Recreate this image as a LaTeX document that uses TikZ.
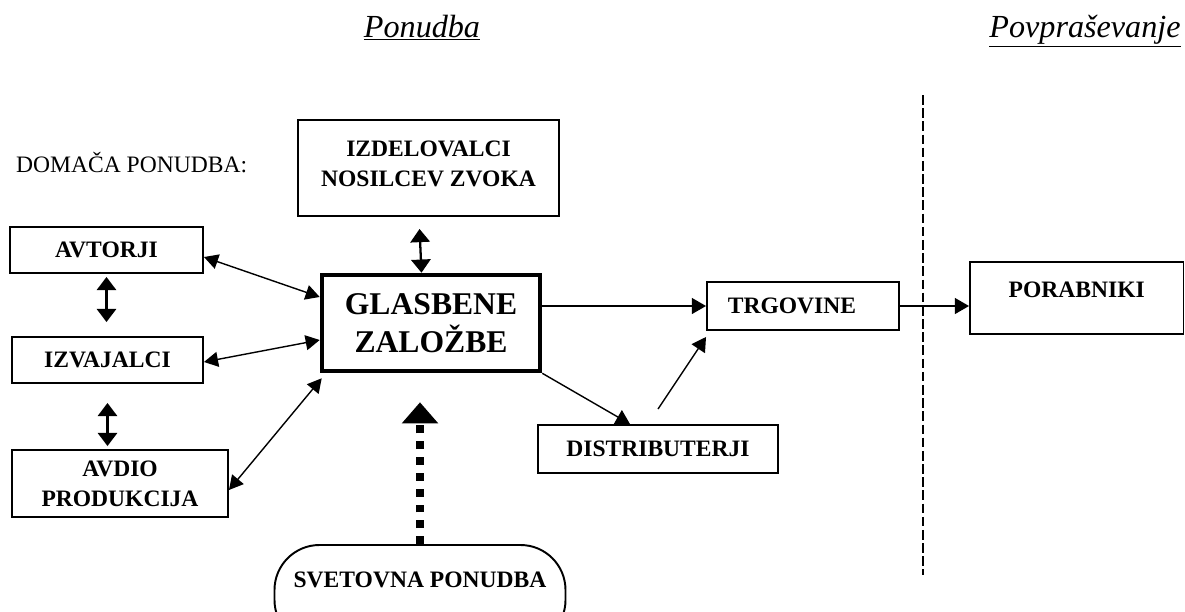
\documentclass[tikz,border=0pt]{standalone}
\usepackage{fontspec}
\setmainfont{Liberation Serif}
\usetikzlibrary{arrows.meta}

% looks that repeat
\tikzset{
  box/.style={draw, line width=1.1pt, inner sep=0pt, align=center,
    font=\fontsize{13.4}{17}\selectfont\bfseries},
  mainbox/.style={draw, line width=2.6pt, inner sep=0pt, align=center,
    font=\fontsize{18}{21.5}\selectfont\bfseries},
  flow/.style={line width=0.8pt, -{Triangle[length=8pt,width=9pt]}},
  twoway/.style={line width=0.8pt,
    {Triangle[length=8pt,width=8.5pt]}-{Triangle[length=8pt,width=8.5pt]}},
  updown/.style={line width=1.3pt,
    {Triangle[length=7.5pt,width=11pt]}-{Triangle[length=7.5pt,width=11pt]}},
  heading/.style={font=\fontsize{18.3}{21}\selectfont\itshape}
}

\begin{document}
\begin{tikzpicture}[x=0.2mm, y=-0.2mm]
\useasboundingbox (0,0) rectangle (1185,611);

% Headings
\node[heading, anchor=base] (ponudba) at (422,37) {\underline{Ponudba}};
\node[heading, anchor=base] (povpr) at (1085,37) {\underline{Povpraševanje}};
\node[anchor=base west, font=\fontsize{13.4}{16}\selectfont] (domaca) at (10,172) {DOMAČA PONUDBA:};

% Boxes on the supply side
\node[box, minimum width=52.2mm, minimum height=19.2mm] (izdelovalci) at (428.5,168) {IZDELOVALCI\\NOSILCEV ZVOKA\\[-12.4pt]};
\node[box, minimum width=38.6mm, minimum height=9.2mm] (avtorji) at (106.5,250) {AVTORJI};
\node[box, minimum width=38.2mm, minimum height=9.2mm] (izvajalci) at (107.5,360) {IZVAJALCI};
\node[box, minimum width=43.2mm, minimum height=13.4mm] (avdio) at (120,483.5) {AVDIO\\PRODUKCIJA};
\node[mainbox, minimum width=43.6mm, minimum height=19.2mm] (glasbene) at (431,323) {GLASBENE\\ZALOŽBE};
\node[box, minimum width=38.4mm, minimum height=9.6mm] (trgovine) at (803,306) {TRGOVINE\hspace*{4.4mm}};
\node[box, minimum width=48mm, minimum height=9.6mm] (distributerji) at (658,449) {DISTRIBUTERJI};
\node[box, rounded corners=9mm, minimum width=58.2mm, minimum height=20mm] (svetovna) at (420,595) {\raisebox{6mm}{SVETOVNA PONUDBA}};

% Demand side
\node[box, minimum width=42.7mm, minimum height=14.4mm] (porabniki) at (1076.75,298) {\raisebox{3.2mm}{PORABNIKI}};
\draw[line width=0.9pt, dash pattern=on 5.5pt off 2pt] (923,95) -- (923,575);

% Connectors
\draw[twoway] ([yshift=-1.4mm]avtorji.east) -- ([yshift=5.2mm]glasbene.west);
\draw[twoway] ([yshift=-0.4mm]izvajalci.east) -- ([yshift=-3.4mm]glasbene.west);
\draw[twoway] ([yshift=-1.3mm]avdio.east) -- ([xshift=0.4mm,yshift=-1mm]glasbene.south west);
\draw[updown, shorten <=2.4mm] ([xshift=-1.9mm]izdelovalci.south) -- ([xshift=-1.9mm]glasbene.north);
\draw[updown, shorten <=0.6mm, shorten >=2.8mm] (avtorji.south) -- (avtorji.south |- izvajalci.north);
\draw[updown, shorten <=3.8mm, shorten >=0.6mm] (izvajalci.south) -- (izvajalci.south |- avdio.north);
\draw[flow] (glasbene.east |- trgovine.west) -- (trgovine.west);
\draw[flow] (glasbene.south east) -- ([xshift=-5.6mm]distributerji.north);
\draw[flow] ([yshift=3mm]distributerji.north) -- ([yshift=-1.2mm]trgovine.south west);
\draw[flow] (trgovine.east) -- (trgovine.east -| porabniki.west);
\draw[line width=4.5pt, dash pattern=on 4.5pt off 4.5pt, shorten >=5.8mm,
  -{Triangle[length=12pt,width=20pt]}] (svetovna.north) -- (svetovna.north |- glasbene.south);
\end{tikzpicture}
\end{document}
